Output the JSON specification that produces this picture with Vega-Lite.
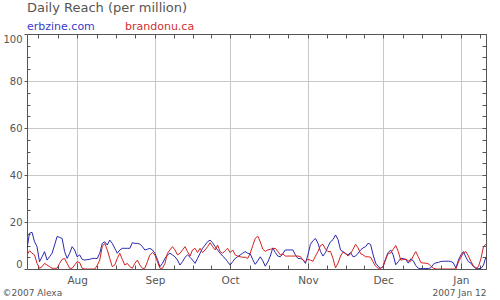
{
"$schema": "https://vega.github.io/schema/vega-lite/v6.json",
"width": 459,
"height": 235,
"autosize": "none",
"padding": {"left": 27, "top": 34, "right": 14, "bottom": 31},
"background": "white",
"config": {"font": "DejaVu Sans", "view": {"stroke": null}},
"data": {"values": [
{"d":"2006/07/12","erbzine":8.8,"brandonu":6.0},
{"d":"2006/07/13","erbzine":15.2,"brandonu":7.8},
{"d":"2006/07/14","erbzine":15.6,"brandonu":6.7},
{"d":"2006/07/15","erbzine":11.6,"brandonu":6.0},
{"d":"2006/07/16","erbzine":9.5,"brandonu":2.4},
{"d":"2006/07/17","erbzine":3.1,"brandonu":0.3},
{"d":"2006/07/18","erbzine":5.2,"brandonu":1.0},
{"d":"2006/07/19","erbzine":7.4,"brandonu":2.4},
{"d":"2006/07/20","erbzine":3.8,"brandonu":1.7},
{"d":"2006/07/21","erbzine":5.2,"brandonu":1.0},
{"d":"2006/07/22","erbzine":6.7,"brandonu":0.3},
{"d":"2006/07/23","erbzine":10.2,"brandonu":0.3},
{"d":"2006/07/24","erbzine":13.8,"brandonu":0.3},
{"d":"2006/07/25","erbzine":13.5,"brandonu":2.4},
{"d":"2006/07/26","erbzine":13.0,"brandonu":4.1},
{"d":"2006/07/27","erbzine":7.4,"brandonu":4.5},
{"d":"2006/07/28","erbzine":4.5,"brandonu":2.4},
{"d":"2006/07/29","erbzine":6.7,"brandonu":0.3},
{"d":"2006/07/30","erbzine":9.5,"brandonu":0.3},
{"d":"2006/07/31","erbzine":8.1,"brandonu":1.7},
{"d":"2006/08/01","erbzine":5.2,"brandonu":3.1},
{"d":"2006/08/02","erbzine":6.0,"brandonu":2.7},
{"d":"2006/08/03","erbzine":4.1,"brandonu":0.3},
{"d":"2006/08/04","erbzine":3.8,"brandonu":0},
{"d":"2006/08/05","erbzine":4.0,"brandonu":0},
{"d":"2006/08/06","erbzine":4.1,"brandonu":0},
{"d":"2006/08/07","erbzine":4.5,"brandonu":0},
{"d":"2006/08/08","erbzine":4.5,"brandonu":0},
{"d":"2006/08/09","erbzine":4.5,"brandonu":1.5},
{"d":"2006/08/10","erbzine":6.7,"brandonu":3.8},
{"d":"2006/08/11","erbzine":10.9,"brandonu":9.5},
{"d":"2006/08/12","erbzine":11.6,"brandonu":10.9},
{"d":"2006/08/13","erbzine":10.2,"brandonu":8.1},
{"d":"2006/08/14","erbzine":12.3,"brandonu":4.5},
{"d":"2006/08/15","erbzine":10.9,"brandonu":1.0},
{"d":"2006/08/16","erbzine":8.8,"brandonu":1.7},
{"d":"2006/08/17","erbzine":6.7,"brandonu":4.5},
{"d":"2006/08/18","erbzine":8.1,"brandonu":6.7},
{"d":"2006/08/19","erbzine":8.8,"brandonu":4.1},
{"d":"2006/08/20","erbzine":8.8,"brandonu":1.7},
{"d":"2006/08/21","erbzine":8.8,"brandonu":2.4},
{"d":"2006/08/22","erbzine":8.8,"brandonu":1.0},
{"d":"2006/08/23","erbzine":11.2,"brandonu":0.3},
{"d":"2006/08/24","erbzine":10.9,"brandonu":2.4},
{"d":"2006/08/25","erbzine":10.9,"brandonu":3.8},
{"d":"2006/08/26","erbzine":10.6,"brandonu":1.7},
{"d":"2006/08/27","erbzine":9.5,"brandonu":0.3},
{"d":"2006/08/28","erbzine":8.1,"brandonu":0.3},
{"d":"2006/08/29","erbzine":8.4,"brandonu":3.1},
{"d":"2006/08/30","erbzine":8.8,"brandonu":6.0},
{"d":"2006/08/31","erbzine":8.1,"brandonu":7.0},
{"d":"2006/09/01","erbzine":6.7,"brandonu":6.0},
{"d":"2006/09/02","erbzine":4.1,"brandonu":3.1},
{"d":"2006/09/03","erbzine":1.0,"brandonu":0.3},
{"d":"2006/09/04","erbzine":2.4,"brandonu":0.3},
{"d":"2006/09/05","erbzine":4.5,"brandonu":2.4},
{"d":"2006/09/06","erbzine":6.0,"brandonu":6.7},
{"d":"2006/09/07","erbzine":6.7,"brandonu":8.1},
{"d":"2006/09/08","erbzine":6.0,"brandonu":9.5},
{"d":"2006/09/09","erbzine":5.2,"brandonu":8.1},
{"d":"2006/09/10","erbzine":3.8,"brandonu":6.0},
{"d":"2006/09/11","erbzine":1.7,"brandonu":6.7},
{"d":"2006/09/12","erbzine":3.1,"brandonu":8.1},
{"d":"2006/09/13","erbzine":5.0,"brandonu":9.5},
{"d":"2006/09/14","erbzine":6.0,"brandonu":7.4},
{"d":"2006/09/15","erbzine":5.0,"brandonu":5.5},
{"d":"2006/09/16","erbzine":3.8,"brandonu":8.1},
{"d":"2006/09/17","erbzine":2.4,"brandonu":8.8},
{"d":"2006/09/18","erbzine":4.5,"brandonu":7.0},
{"d":"2006/09/19","erbzine":6.7,"brandonu":8.8},
{"d":"2006/09/20","erbzine":8.8,"brandonu":7.0},
{"d":"2006/09/21","erbzine":10.2,"brandonu":8.1},
{"d":"2006/09/22","erbzine":11.6,"brandonu":9.5},
{"d":"2006/09/23","erbzine":12.3,"brandonu":11.2},
{"d":"2006/09/24","erbzine":11.2,"brandonu":9.5},
{"d":"2006/09/25","erbzine":9.5,"brandonu":8.1},
{"d":"2006/09/26","erbzine":8.1,"brandonu":10.2},
{"d":"2006/09/27","erbzine":6.7,"brandonu":7.4},
{"d":"2006/09/28","erbzine":5.5,"brandonu":6.7},
{"d":"2006/09/29","erbzine":4.5,"brandonu":7.8},
{"d":"2006/09/30","erbzine":3.1,"brandonu":8.8},
{"d":"2006/10/01","erbzine":1.7,"brandonu":7.0},
{"d":"2006/10/02","erbzine":3.1,"brandonu":8.1},
{"d":"2006/10/03","erbzine":4.5,"brandonu":6.0},
{"d":"2006/10/04","erbzine":5.2,"brandonu":5.5},
{"d":"2006/10/05","erbzine":6.0,"brandonu":5.2},
{"d":"2006/10/06","erbzine":6.7,"brandonu":5.0},
{"d":"2006/10/07","erbzine":7.4,"brandonu":5.0},
{"d":"2006/10/08","erbzine":6.7,"brandonu":4.5},
{"d":"2006/10/09","erbzine":6.5,"brandonu":6.7},
{"d":"2006/10/10","erbzine":4.0,"brandonu":10.0},
{"d":"2006/10/11","erbzine":2.0,"brandonu":13.0},
{"d":"2006/10/12","erbzine":3.5,"brandonu":14.0},
{"d":"2006/10/13","erbzine":5.2,"brandonu":11.6},
{"d":"2006/10/14","erbzine":3.5,"brandonu":8.5},
{"d":"2006/10/15","erbzine":1.2,"brandonu":7.5},
{"d":"2006/10/16","erbzine":3.0,"brandonu":8.1},
{"d":"2006/10/17","erbzine":5.5,"brandonu":8.4},
{"d":"2006/10/18","erbzine":9.0,"brandonu":8.6},
{"d":"2006/10/19","erbzine":7.0,"brandonu":8.8},
{"d":"2006/10/20","erbzine":5.5,"brandonu":7.5},
{"d":"2006/10/21","erbzine":5.2,"brandonu":6.0},
{"d":"2006/10/22","erbzine":6.5,"brandonu":6.5},
{"d":"2006/10/23","erbzine":8.1,"brandonu":5.5},
{"d":"2006/10/24","erbzine":8.1,"brandonu":5.5},
{"d":"2006/10/25","erbzine":8.1,"brandonu":5.5},
{"d":"2006/10/26","erbzine":8.1,"brandonu":5.5},
{"d":"2006/10/27","erbzine":6.0,"brandonu":5.5},
{"d":"2006/10/28","erbzine":4.5,"brandonu":5.5},
{"d":"2006/10/29","erbzine":4.5,"brandonu":5.3},
{"d":"2006/10/30","erbzine":4.0,"brandonu":3.8},
{"d":"2006/10/31","erbzine":2.4,"brandonu":3.1},
{"d":"2006/11/01","erbzine":6.0,"brandonu":4.1},
{"d":"2006/11/02","erbzine":10.5,"brandonu":3.8},
{"d":"2006/11/03","erbzine":12.0,"brandonu":3.3},
{"d":"2006/11/04","erbzine":13.0,"brandonu":5.5},
{"d":"2006/11/05","erbzine":11.0,"brandonu":7.4},
{"d":"2006/11/06","erbzine":7.5,"brandonu":10.0},
{"d":"2006/11/07","erbzine":5.5,"brandonu":10.5},
{"d":"2006/11/08","erbzine":7.0,"brandonu":8.5},
{"d":"2006/11/09","erbzine":9.5,"brandonu":7.4},
{"d":"2006/11/10","erbzine":11.6,"brandonu":7.5},
{"d":"2006/11/11","erbzine":12.5,"brandonu":4.5},
{"d":"2006/11/12","erbzine":14.5,"brandonu":0.5},
{"d":"2006/11/13","erbzine":12.5,"brandonu":2.5},
{"d":"2006/11/14","erbzine":8.1,"brandonu":5.5},
{"d":"2006/11/15","erbzine":7.4,"brandonu":7.2},
{"d":"2006/11/16","erbzine":6.5,"brandonu":6.7},
{"d":"2006/11/17","erbzine":6.0,"brandonu":5.5},
{"d":"2006/11/18","erbzine":7.0,"brandonu":6.5},
{"d":"2006/11/19","erbzine":5.2,"brandonu":8.4},
{"d":"2006/11/20","erbzine":5.5,"brandonu":10.5},
{"d":"2006/11/21","erbzine":6.7,"brandonu":9.0},
{"d":"2006/11/22","erbzine":8.1,"brandonu":6.5},
{"d":"2006/11/23","erbzine":9.0,"brandonu":6.0},
{"d":"2006/11/24","erbzine":9.5,"brandonu":5.2},
{"d":"2006/11/25","erbzine":11.0,"brandonu":5.2},
{"d":"2006/11/26","erbzine":10.4,"brandonu":5.0},
{"d":"2006/11/27","erbzine":6.0,"brandonu":3.0},
{"d":"2006/11/28","erbzine":2.5,"brandonu":1.2},
{"d":"2006/11/29","erbzine":1.2,"brandonu":0.3},
{"d":"2006/11/30","erbzine":0.3,"brandonu":0.3},
{"d":"2006/12/01","erbzine":1.0,"brandonu":1.2},
{"d":"2006/12/02","erbzine":4.5,"brandonu":4.0},
{"d":"2006/12/03","erbzine":7.0,"brandonu":6.7},
{"d":"2006/12/04","erbzine":8.1,"brandonu":6.8},
{"d":"2006/12/05","erbzine":6.0,"brandonu":8.4},
{"d":"2006/12/06","erbzine":1.8,"brandonu":10.0},
{"d":"2006/12/07","erbzine":3.1,"brandonu":7.5},
{"d":"2006/12/08","erbzine":4.5,"brandonu":3.8},
{"d":"2006/12/09","erbzine":4.5,"brandonu":4.0},
{"d":"2006/12/10","erbzine":4.0,"brandonu":4.2},
{"d":"2006/12/11","erbzine":2.5,"brandonu":3.5},
{"d":"2006/12/12","erbzine":4.3,"brandonu":3.3},
{"d":"2006/12/13","erbzine":3.5,"brandonu":5.5},
{"d":"2006/12/14","erbzine":1.5,"brandonu":7.4},
{"d":"2006/12/15","erbzine":0.3,"brandonu":5.2},
{"d":"2006/12/16","erbzine":0.2,"brandonu":2.8},
{"d":"2006/12/17","erbzine":0.2,"brandonu":2.5},
{"d":"2006/12/18","erbzine":0.2,"brandonu":2.5},
{"d":"2006/12/19","erbzine":0.2,"brandonu":2.2},
{"d":"2006/12/20","erbzine":0.5,"brandonu":1.3},
{"d":"2006/12/21","erbzine":2.0,"brandonu":0.4},
{"d":"2006/12/22","erbzine":2.6,"brandonu":0},
{"d":"2006/12/23","erbzine":2.8,"brandonu":0},
{"d":"2006/12/24","erbzine":3.2,"brandonu":0},
{"d":"2006/12/25","erbzine":3.3,"brandonu":0},
{"d":"2006/12/26","erbzine":3.3,"brandonu":0},
{"d":"2006/12/27","erbzine":3.3,"brandonu":0},
{"d":"2006/12/28","erbzine":3.2,"brandonu":0},
{"d":"2006/12/29","erbzine":2.6,"brandonu":0},
{"d":"2006/12/30","erbzine":0.4,"brandonu":0},
{"d":"2006/12/31","erbzine":3.8,"brandonu":3.0},
{"d":"2007/01/01","erbzine":6.0,"brandonu":5.0},
{"d":"2007/01/02","erbzine":7.4,"brandonu":6.8},
{"d":"2007/01/03","erbzine":5.0,"brandonu":7.4},
{"d":"2007/01/04","erbzine":3.1,"brandonu":5.5},
{"d":"2007/01/05","erbzine":2.5,"brandonu":3.2},
{"d":"2007/01/06","erbzine":1.0,"brandonu":1.3},
{"d":"2007/01/07","erbzine":0.3,"brandonu":0.3},
{"d":"2007/01/08","erbzine":0.2,"brandonu":1.0},
{"d":"2007/01/09","erbzine":0.2,"brandonu":4.5},
{"d":"2007/01/10","erbzine":1.7,"brandonu":9.5},
{"d":"2007/01/11","erbzine":5.2,"brandonu":10.6}
]},
"transform": [{"fold": ["erbzine", "brandonu"], "as": ["site", "reach"]}],
"layer": [
{
"mark": {"type": "line", "strokeWidth": 1, "clip": true},
"encoding": {
"x": {"field": "d", "type": "temporal",
"scale": {"domain": [{"year": 2006, "month": 7, "date": 12}, {"year": 2007, "month": 1, "date": 11}]},
"axis": {"orient": "bottom",
"values": [{"year": 2006, "month": 8, "date": 1}, {"year": 2006, "month": 9, "date": 1}, {"year": 2006, "month": 10, "date": 1}, {"year": 2006, "month": 11, "date": 1}, {"year": 2006, "month": 12, "date": 1}, {"year": 2007, "month": 1, "date": 1}],
"format": "%b", "grid": true, "gridColor": "#c8c8c8", "gridWidth": 1,
"tickSize": -6, "tickColor": "#555555", "domain": true, "domainColor": "#555555",
"labelColor": "#555555", "labelFontSize": 10.5, "labelFont": "DejaVu Sans", "labelPadding": 12, "labelFlush": false, "labelOverlap": false,
"title": "©2007 Alexa", "titleX": -25, "titleY": 23, "titleAlign": "left", "titleBaseline": "middle", "titleAngle": 0,
"titleFontSize": 9, "titleFont": "DejaVu Sans", "titleFontWeight": "normal", "titleColor": "#555555"}},
"y": {"field": "reach", "type": "quantitative",
"scale": {"domain": [0, 100], "nice": false},
"axis": {"orient": "left", "values": [0, 20, 40, 60, 80, 100], "grid": true, "gridColor": "#c8c8c8",
"tickSize": 3, "tickColor": "#555555", "domain": true, "domainColor": "#555555",
"labelColor": "#555555", "labelFontSize": 10, "labelFont": "DejaVu Sans", "labelPadding": 2, "labelFlush": true, "title": null}},
"color": {"field": "site", "type": "nominal",
"scale": {"domain": ["erbzine", "brandonu"], "range": ["#2828b0", "#d42020"]},
"legend": {"orient": "none", "legendX": 0, "legendY": -32, "direction": "horizontal", "padding": 0,
"title": "Daily Reach (per million)", "titleFontSize": 13, "titleFont": "DejaVu Sans", "titleFontWeight": "normal", "titleColor": "#555555", "titlePadding": 6, "titleAnchor": "start",
"labelFontSize": 11, "labelFont": "DejaVu Sans", "labelOffset": -11, "symbolSize": 0, "symbolStrokeWidth": 0, "symbolOpacity": 0, "columnPadding": 30,
"labelExpr": "datum.label == 'erbzine' ? 'erbzine.com' : 'brandonu.ca'",
"encoding": {"labels": {"fill": {"condition": {"test": "datum.value == 'erbzine'", "value": "#3a3ac8"}, "value": "#d03030"}}}}}
}
},
{
"mark": {"type": "line", "opacity": 0},
"encoding": {
"x": {"field": "d", "type": "temporal",
"axis": {"orient": "top",
"values": [{"year": 2006, "month": 7, "date": 16, "hours": 12}, {"year": 2006, "month": 7, "date": 24, "hours": 6}, {"year": 2006, "month": 8, "date": 1}, {"year": 2006, "month": 8, "date": 8, "hours": 18}, {"year": 2006, "month": 8, "date": 16, "hours": 12}, {"year": 2006, "month": 8, "date": 24, "hours": 6}, {"year": 2006, "month": 9, "date": 1}, {"year": 2006, "month": 9, "date": 8, "hours": 12}, {"year": 2006, "month": 9, "date": 16}, {"year": 2006, "month": 9, "date": 23, "hours": 12}, {"year": 2006, "month": 10, "date": 1}, {"year": 2006, "month": 10, "date": 8, "hours": 18}, {"year": 2006, "month": 10, "date": 16, "hours": 12}, {"year": 2006, "month": 10, "date": 24, "hours": 6}, {"year": 2006, "month": 11, "date": 1}, {"year": 2006, "month": 11, "date": 8, "hours": 12}, {"year": 2006, "month": 11, "date": 16}, {"year": 2006, "month": 11, "date": 23, "hours": 12}, {"year": 2006, "month": 12, "date": 1}, {"year": 2006, "month": 12, "date": 8, "hours": 18}, {"year": 2006, "month": 12, "date": 16, "hours": 12}, {"year": 2006, "month": 12, "date": 24, "hours": 6}, {"year": 2007, "month": 1, "date": 1}, {"year": 2007, "month": 1, "date": 8, "hours": 18}],
"tickSize": -4, "tickColor": "#555555", "labels": false, "domain": true, "domainColor": "#555555", "grid": false,
"title": "2007 Jan 12", "titleX": 459, "titleY": 258, "titleAlign": "right", "titleBaseline": "middle", "titleAngle": 0,
"titleFontSize": 9, "titleFont": "DejaVu Sans", "titleFontWeight": "normal", "titleColor": "#555555"}},
"y": {"field": "reach", "type": "quantitative",
"axis": {"orient": "right", "values": [0, 5, 10, 15, 20, 25, 30, 35, 40, 45, 50, 55, 60, 65, 70, 75, 80, 85, 90, 95, 100],
"tickSize": -4, "tickColor": "#555555", "labels": false, "domain": true, "domainColor": "#555555", "grid": false, "title": null}}
}
},
{
"mark": {"type": "line", "opacity": 0},
"encoding": {
"x": {"field": "d", "type": "temporal",
"axis": {"orient": "bottom",
"values": [{"year": 2006, "month": 7, "date": 16, "hours": 12}, {"year": 2006, "month": 7, "date": 24, "hours": 6}, {"year": 2006, "month": 8, "date": 8, "hours": 18}, {"year": 2006, "month": 8, "date": 16, "hours": 12}, {"year": 2006, "month": 8, "date": 24, "hours": 6}, {"year": 2006, "month": 9, "date": 8, "hours": 12}, {"year": 2006, "month": 9, "date": 16}, {"year": 2006, "month": 9, "date": 23, "hours": 12}, {"year": 2006, "month": 10, "date": 8, "hours": 18}, {"year": 2006, "month": 10, "date": 16, "hours": 12}, {"year": 2006, "month": 10, "date": 24, "hours": 6}, {"year": 2006, "month": 11, "date": 8, "hours": 12}, {"year": 2006, "month": 11, "date": 16}, {"year": 2006, "month": 11, "date": 23, "hours": 12}, {"year": 2006, "month": 12, "date": 8, "hours": 18}, {"year": 2006, "month": 12, "date": 16, "hours": 12}, {"year": 2006, "month": 12, "date": 24, "hours": 6}, {"year": 2007, "month": 1, "date": 8, "hours": 18}],
"tickSize": -4, "tickColor": "#555555", "labels": false, "domain": false, "grid": false, "title": null}},
"y": {"field": "reach", "type": "quantitative",
"axis": {"orient": "left", "values": [5, 10, 15, 25, 30, 35, 45, 50, 55, 65, 70, 75, 85, 90, 95],
"tickSize": -3, "tickColor": "#555555", "labels": false, "domain": false, "grid": false, "title": null}}
}
}
],
"resolve": {"axis": {"x": "independent", "y": "independent"}}
}
